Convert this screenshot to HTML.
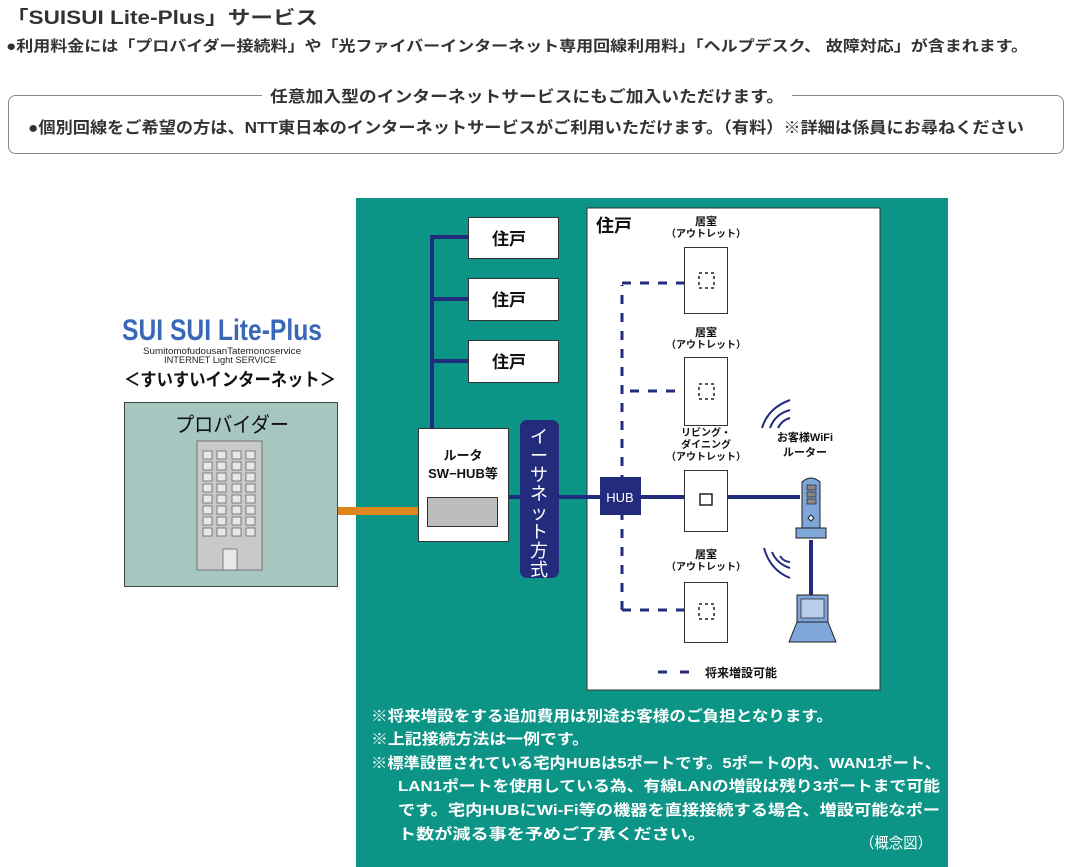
<!DOCTYPE html>
<html><head><meta charset="utf-8"><style>
html,body{margin:0;padding:0;background:#fff;}
svg{display:block;font-family:"Liberation Sans","Noto Sans CJK JP",sans-serif;}
</style></head><body>
<svg width="1070" height="867" viewBox="0 0 1070 867">
<text x="6" y="24" font-size="19" font-weight="bold" fill="#333" textLength="312" lengthAdjust="spacingAndGlyphs">「SUISUI Lite-Plus」サービス</text>
<text x="6" y="51" font-size="15" font-weight="bold" fill="#333" textLength="1022" lengthAdjust="spacingAndGlyphs">●利用料金には「プロバイダー接続料」や「光ファイバーインターネット専用回線利用料」「ヘルプデスク、 故障対応」が含まれます。</text>
<rect x="8.5" y="95.5" width="1055" height="58" rx="7" fill="none" stroke="#888"/>
<rect x="262" y="85" width="530" height="20" fill="#fff"/>
<text x="270" y="102" font-size="16" font-weight="bold" fill="#333" textLength="514" lengthAdjust="spacingAndGlyphs">任意加入型のインターネットサービスにもご加入いただけます。</text>
<text x="28" y="133" font-size="16" font-weight="bold" fill="#333" textLength="996" lengthAdjust="spacingAndGlyphs">●個別回線をご希望の方は、NTT東日本のインターネットサービスがご利用いただけます。（有料）※詳細は係員にお尋ねください</text>

<rect x="356" y="198" width="592" height="669" fill="#0c9486"/>
<rect x="587" y="208" width="293" height="482" fill="#fff" stroke="#333"/>

<text x="122" y="340" font-size="30" font-weight="bold" fill="#3a67b8" textLength="200" lengthAdjust="spacingAndGlyphs">SUI SUI Lite-Plus</text>
<text x="143" y="354" font-size="9" fill="#222" textLength="158" lengthAdjust="spacingAndGlyphs">SumitomofudousanTatemonoservice</text>
<text x="164" y="363" font-size="9" fill="#222" textLength="112" lengthAdjust="spacingAndGlyphs">INTERNET Light SERVICE</text>
<text x="124" y="386" font-size="18" font-weight="bold" fill="#111" textLength="212" lengthAdjust="spacingAndGlyphs">＜すいすいインターネット＞</text>

<rect x="124.5" y="402.5" width="213" height="184" fill="#a5c7bf" stroke="#444"/>
<text x="175" y="432" font-size="21" fill="#111" textLength="114" lengthAdjust="spacingAndGlyphs">プロバイダー</text>
<rect x="197" y="441" width="65" height="129" fill="#c9c9c9" stroke="#777"/>
<g fill="#e8e8e8" stroke="#666" stroke-width="0.8">
<rect x="203" y="451" width="9" height="8"/><rect x="217" y="451" width="9" height="8"/><rect x="232" y="451" width="9" height="8"/><rect x="246" y="451" width="9" height="8"/>
<rect x="203" y="462" width="9" height="8"/><rect x="217" y="462" width="9" height="8"/><rect x="232" y="462" width="9" height="8"/><rect x="246" y="462" width="9" height="8"/>
<rect x="203" y="473" width="9" height="8"/><rect x="217" y="473" width="9" height="8"/><rect x="232" y="473" width="9" height="8"/><rect x="246" y="473" width="9" height="8"/>
<rect x="203" y="484" width="9" height="8"/><rect x="217" y="484" width="9" height="8"/><rect x="232" y="484" width="9" height="8"/><rect x="246" y="484" width="9" height="8"/>
<rect x="203" y="495" width="9" height="8"/><rect x="217" y="495" width="9" height="8"/><rect x="232" y="495" width="9" height="8"/><rect x="246" y="495" width="9" height="8"/>
<rect x="203" y="506" width="9" height="8"/><rect x="217" y="506" width="9" height="8"/><rect x="232" y="506" width="9" height="8"/><rect x="246" y="506" width="9" height="8"/>
<rect x="203" y="517" width="9" height="8"/><rect x="217" y="517" width="9" height="8"/><rect x="232" y="517" width="9" height="8"/><rect x="246" y="517" width="9" height="8"/>
<rect x="203" y="528" width="9" height="8"/><rect x="217" y="528" width="9" height="8"/><rect x="232" y="528" width="9" height="8"/><rect x="246" y="528" width="9" height="8"/>
<rect x="223" y="549" width="14" height="21"/>
</g>

<rect x="338" y="507" width="90" height="8" fill="#e0861e"/>

<g stroke="#232c7c" stroke-width="4" fill="none">
<path d="M432 429V237H468M432 299H468M432 361H468"/>
<path d="M508 497H600M641 497H800"/>
<path d="M811 540V595"/>
</g>
<g fill="#fff" stroke="#333">
<rect x="468.5" y="217.5" width="90" height="41"/>
<rect x="468.5" y="278.5" width="90" height="42"/>
<rect x="468.5" y="340.5" width="90" height="42"/>
<rect x="418.5" y="428.5" width="90" height="113"/>
</g>
<g font-size="17" font-weight="bold" fill="#111">
<text x="492" y="245">住戸</text><text x="492" y="306">住戸</text><text x="492" y="368">住戸</text>
</g>
<text x="463" y="460" font-size="13" font-weight="bold" text-anchor="middle" fill="#111">ルータ</text>
<text x="463" y="478" font-size="13" font-weight="bold" text-anchor="middle" fill="#111">SW−HUB等</text>
<rect x="427.5" y="497.5" width="70" height="29" fill="#bdbdbd" stroke="#333"/>

<rect x="520" y="420" width="39" height="158" rx="7" fill="#232c7c"/>
<g font-size="18" fill="#fff" text-anchor="middle">
<text x="539" y="443">イ</text><text x="539" y="462">ー</text><text x="539" y="481">サ</text><text x="539" y="500">ネ</text><text x="539" y="519">ッ</text><text x="539" y="538">ト</text><text x="539" y="557">方</text><text x="539" y="576">式</text>
</g>

<text x="596" y="232" font-size="18" font-weight="bold" fill="#111">住戸</text>
<g stroke="#232c7c" stroke-width="3" fill="none" stroke-dasharray="9 9">
<path d="M622 610V285"/>
<path d="M622 283H684"/>
<path d="M630 391H684"/>
<path d="M622 610H684"/>
</g>
<rect x="600" y="477" width="41" height="38" fill="#232c7c"/>
<text x="620" y="502" font-size="13" fill="#fff" text-anchor="middle">HUB</text>
<g fill="#fff" stroke="#333">
<rect x="684.5" y="247.5" width="43" height="66"/>
<rect x="684.5" y="357.5" width="43" height="68"/>
<rect x="684.5" y="470.5" width="43" height="61"/>
<rect x="684.5" y="582.5" width="43" height="60"/>
</g>
<g fill="none" stroke="#222" stroke-width="1.5">
<rect x="699" y="273" width="15" height="15" stroke-dasharray="3 3"/>
<rect x="699" y="384" width="15" height="15" stroke-dasharray="3 3"/>
<rect x="700" y="494" width="12" height="11"/>
<rect x="699" y="604" width="15" height="15" stroke-dasharray="3 3"/>
</g>
<g font-size="10" font-weight="bold" fill="#111" text-anchor="middle">
<text x="706" y="225" font-size="11">居室</text><text x="706" y="237">（アウトレット）</text>
<text x="706" y="336" font-size="11">居室</text><text x="706" y="348">（アウトレット）</text>
<text x="706" y="436">リビング・</text><text x="706" y="448">ダイニング</text><text x="706" y="460">（アウトレット）</text>
<text x="706" y="558" font-size="11">居室</text><text x="706" y="570">（アウトレット）</text>
</g>
<text x="805" y="441" font-size="11" font-weight="bold" fill="#111" text-anchor="middle">お客様WiFi</text>
<text x="805" y="456" font-size="11" font-weight="bold" fill="#111" text-anchor="middle">ルーター</text>
<g fill="none" stroke="#232c7c" stroke-width="2">
<path d="M762 428Q768 408 790 400M770 428Q775 414 790 410M778 428Q782 420 790 418"/>
<path d="M764 548Q770 570 790 578M772 552Q777 564 790 568M780 556Q784 562 790 562"/>
</g>
<path d="M802 482Q811 474 820 482V528H802Z" fill="#7fa6d8" stroke="#222"/>
<rect x="807" y="485" width="9" height="5" fill="#888" stroke="#222" stroke-width="0.7"/>
<rect x="807" y="492" width="9" height="5" fill="#888" stroke="#222" stroke-width="0.7"/>
<rect x="807" y="499" width="9" height="5" fill="#888" stroke="#222" stroke-width="0.7"/>
<path d="M811 515l3 3-3 3-3-3z" fill="#fff" stroke="#222"/>
<rect x="796" y="528" width="30" height="10" fill="#7fa6d8" stroke="#222"/>
<path d="M797 595H828V622H797Z" fill="#7fa6d8" stroke="#222"/>
<rect x="801" y="599" width="23" height="19" fill="#b8cde8" stroke="#222" stroke-width="0.7"/>
<path d="M797 622H828L836 642H789Z" fill="#7fa6d8" stroke="#222"/>
<path d="M658 672H667M680 672H689" stroke="#232c7c" stroke-width="3"/>
<text x="705" y="677" font-size="12" font-weight="bold" fill="#111">将来増設可能</text>

<g font-size="15" font-weight="bold" fill="#fff">
<text x="371" y="721" textLength="462" lengthAdjust="spacingAndGlyphs">※将来増設をする追加費用は別途お客様のご負担となります。</text>
<text x="371" y="744" textLength="218" lengthAdjust="spacingAndGlyphs">※上記接続方法は一例です。</text>
<text x="371" y="768" textLength="570" lengthAdjust="spacingAndGlyphs">※標準設置されている宅内HUBは5ポートです。5ポートの内、WAN1ポート、</text>
<text x="398" y="791" textLength="542" lengthAdjust="spacingAndGlyphs">LAN1ポートを使用している為、有線LANの増設は残り3ポートまで可能</text>
<text x="398" y="815" textLength="542" lengthAdjust="spacingAndGlyphs">です。宅内HUBにWi-Fi等の機器を直接接続する場合、増設可能なポー</text>
<text x="398" y="839" textLength="308" lengthAdjust="spacingAndGlyphs">ト数が減る事を予めご了承ください。</text>
<text x="860" y="848" font-weight="normal" textLength="72" lengthAdjust="spacingAndGlyphs">（概念図）</text>
</g>
</svg>
</body></html>
